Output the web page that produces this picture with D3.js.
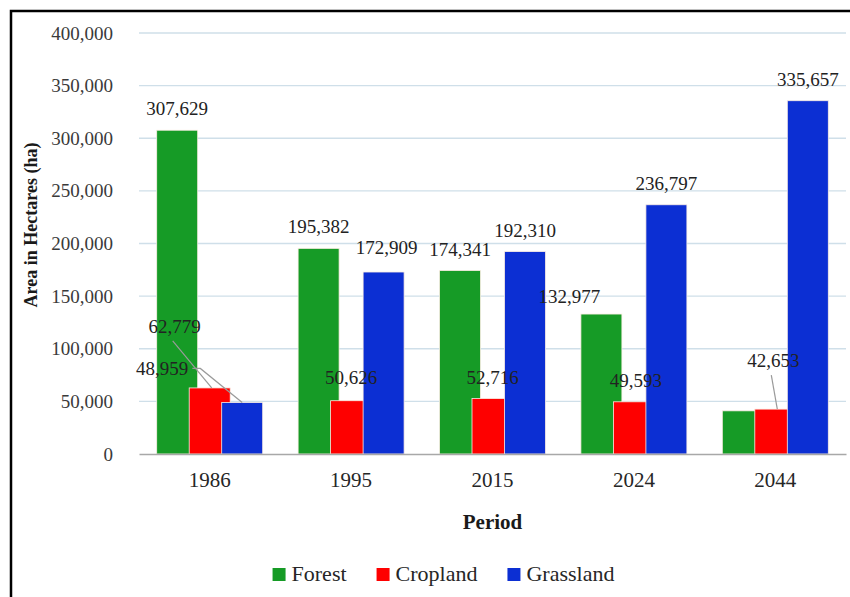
<!DOCTYPE html>
<html>
<head>
<meta charset="utf-8">
<script src="https://cdn.jsdelivr.net/npm/d3@7"></script>
<style>
  body { margin: 0; background: #fff; }
  text { font-family: "Liberation Serif", "Times New Roman", serif; }
</style>
</head>
<body>
<div id="chart"></div>
<script>
var periods = ['1986', '1995', '2015', '2024', '2044'];
var seriesNames = ['Forest', 'Cropland', 'Grassland'];
var forest = [307629, 195382, 174341, 132977, 41000];
var cropland = [62779, 50626, 52716, 49593, 42653];
var grassland = [48959, 172909, 192310, 236797, 335657];
var yTicks = [0, 50000, 100000, 150000, 200000, 250000, 300000, 350000, 400000];
var colors = ['#169b26', '#fe0000', '#0c2fd3'];

// label nudges per series / period (null = no label drawn), leader = draw a line back to bar
var labelNudge = [
  [{dx: 0, dy: 0}, {dx: 0, dy: 0}, {dx: 0, dy: 0}, {dx: -32, dy: 4}, null],
  [{dx: -35, dy: -40, leader: true}, {dx: 0, dy: -2}, {dx: 0, dy: 0}, {dx: 2, dy: 0}, {dx: -2, dy: -27, leader: true}],
  [{dx: -80, dy: -12, leader: true}, {dx: 3, dy: -3}, {dx: 0, dy: 0}, {dx: 0, dy: 0}, {dx: 0, dy: 0}]
];

var width = 850, height = 597;
var svg = d3.select('#chart').append('svg')
  .attr('width', width)
  .attr('height', height);

// frame
svg.append('rect')
  .attr('x', 11).attr('y', 11)
  .attr('width', 880).attr('height', 620)
  .attr('fill', 'none')
  .attr('stroke', '#000')
  .attr('stroke-width', 2.5);

var x0 = d3.scaleBand().domain(periods).range([139, 846]);
var x1 = d3.scaleBand().domain(seriesNames).range([-53, 44.5]);
var barW = 41;
var y = d3.scaleLinear().domain([0, 400000]).range([454, 33]);
var fmt = d3.format(',');

// gridlines
svg.append('g').selectAll('line')
  .data(yTicks.filter(function(d) { return d > 0; }))
 .enter().append('line')
  .attr('x1', 139).attr('x2', 846)
  .attr('y1', function(d) { return y(d); })
  .attr('y2', function(d) { return y(d); })
  .attr('stroke', '#cfdfe9')
  .attr('stroke-width', 1.3);

// y axis labels
var yAxis = svg.append('g')
  .attr('transform', 'translate(139,0)')
  .call(d3.axisLeft(y).tickValues(yTicks).tickFormat(fmt).tickSize(0).tickPadding(26));
yAxis.select('.domain').remove();
yAxis.selectAll('text')
  .attr('font-family', '"Liberation Serif", serif')
  .attr('font-size', 19)
  .attr('fill', '#3a3a3a');

var allSeries = [forest, cropland, grassland];
var table = [];
allSeries.forEach(function(vals, s) {
  vals.forEach(function(v, i) {
    table.push({ s: s, name: seriesNames[s], period: periods[i], i: i, value: v });
  });
});

function barCx(d) { return x0(d.period) + x0.bandwidth() / 2 + x1(d.name) + barW / 2; }

svg.append('g').selectAll('rect')
  .data(table)
 .enter().append('rect')
  .attr('x', function(d) { return barCx(d) - barW / 2; })
  .attr('y', function(d) { return y(d.value); })
  .attr('width', barW)
  .attr('height', function(d) { return y(0) - y(d.value); })
  .attr('fill', function(d) { return colors[d.s]; })
  .attr('stroke', '#fbeee4')
  .attr('stroke-width', 0.8);

// baseline
var xAxis = svg.append('g')
  .attr('transform', 'translate(0,' + y(0) + ')')
  .call(d3.axisBottom(x0).tickSize(0).tickPadding(18));
xAxis.select('.domain').attr('stroke', '#a8a8a8').attr('stroke-width', 1.5);
xAxis.selectAll('text')
  .attr('font-family', '"Liberation Serif", serif')
  .attr('font-size', 21)
  .attr('fill', '#262626');

// value labels
var labelled = table.filter(function(d) { return labelNudge[d.s][d.i] !== null; });
var labels = svg.append('g').selectAll('text')
  .data(labelled)
 .enter().append('text')
  .attr('x', function(d) { return barCx(d) + labelNudge[d.s][d.i].dx; })
  .attr('y', function(d) { return y(d.value) - 15 + labelNudge[d.s][d.i].dy; })
  .attr('text-anchor', 'middle')
  .attr('font-size', 19)
  .attr('fill', '#222')
  .text(function(d) { return fmt(d.value); });

// leader lines
labels.each(function(d) {
  var n = labelNudge[d.s][d.i];
  if (!n.leader) return;
  var lx = barCx(d) + n.dx, ly = y(d.value) - 15 + n.dy;
  var w = this.getComputedTextLength();
  var pts;
  if (n.dx < -60) {
    pts = [[lx + w / 2 + 4, ly - 7], [lx + w / 2 + 12, ly - 7], [barCx(d), y(d.value)]];
  } else {
    pts = [[lx - 2, ly + 8], [barCx(d) + 2, y(d.value)]];
  }
  svg.append('path')
    .attr('d', d3.line()(pts))
    .attr('fill', 'none')
    .attr('stroke', '#9a9a9a')
    .attr('stroke-width', 1.2);
});

// axis titles
svg.append('text')
  .attr('transform', 'translate(37,225) rotate(-90)')
  .attr('text-anchor', 'middle')
  .attr('font-size', 18)
  .attr('font-weight', 'bold')
  .attr('fill', '#1a1a1a')
  .text('Area in Hectares (ha)');

svg.append('text')
  .attr('x', 492.5).attr('y', 529)
  .attr('text-anchor', 'middle')
  .attr('font-size', 21)
  .attr('font-weight', 'bold')
  .attr('fill', '#1a1a1a')
  .text('Period');

// legend
var legend = svg.append('g');
var items = legend.selectAll('g')
  .data(seriesNames)
 .enter().append('g');
items.append('rect')
  .attr('width', 13).attr('height', 13)
  .attr('y', -13)
  .attr('fill', function(d, i) { return colors[i]; });
items.append('text')
  .attr('x', 19)
  .attr('font-size', 22)
  .attr('fill', '#262626')
  .text(function(d) { return d; });
var pos = 0;
items.each(function() {
  d3.select(this).attr('transform', 'translate(' + pos + ',0)');
  pos += this.getBBox().width + 30;
});
var legendW = pos - 30;
legend.attr('transform', 'translate(' + (443.5 - legendW / 2) + ',581)');
</script>
</body>
</html>
